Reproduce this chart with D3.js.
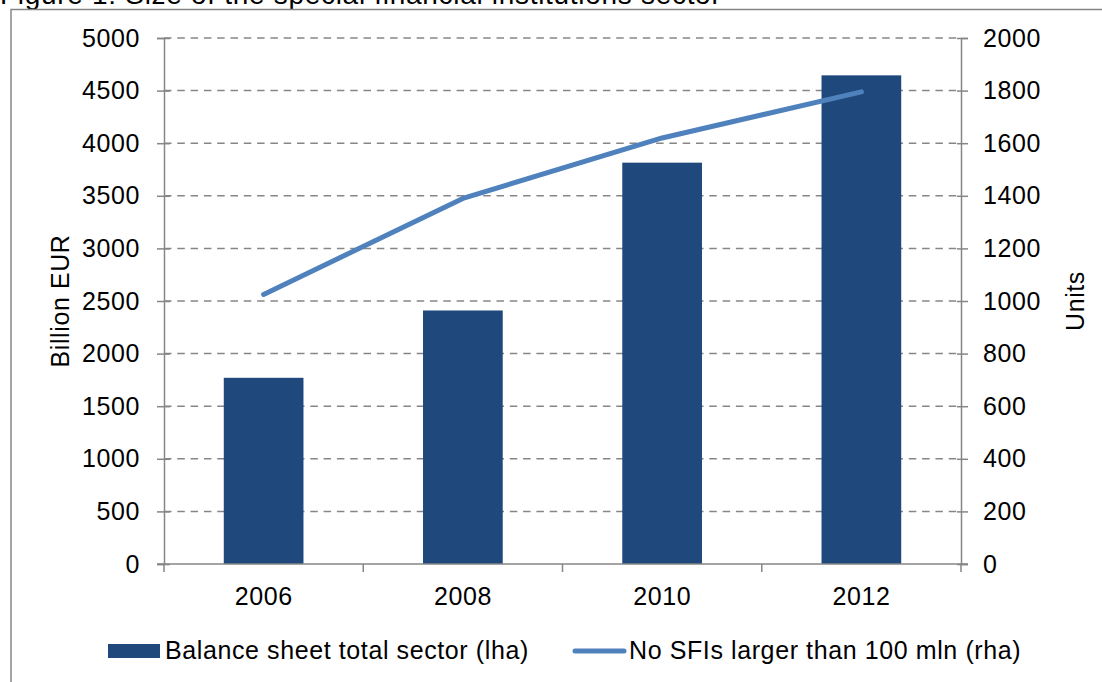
<!DOCTYPE html>
<html>
<head>
<meta charset="utf-8">
<script src="https://cdn.jsdelivr.net/npm/d3@7"></script>
<style>
  html, body { margin: 0; padding: 0; background: #fff; overflow: hidden; }
  svg { display: block; font-family: "Liberation Sans", Arial, sans-serif; }
  text { letter-spacing: 0.6px; }
</style>
</head>
<body>
<svg id="chart" width="1102" height="682"></svg>
<script>
// Special financial institutions: balance sheet total and number of entities
const years = ["2006", "2008", "2010", "2012"];
const balanceSheet = [1770, 2410, 3815, 4645];   // billion EUR (left axis)
const sfiCount = [1025, 1390, 1620, 1795];       // units (right axis)
const leftTicks = [0, 500, 1000, 1500, 2000, 2500, 3000, 3500, 4000, 4500, 5000];
const rightTicks = [0, 200, 400, 600, 800, 1000, 1200, 1400, 1600, 1800, 2000];

const svg = d3.select("#chart");
const axisColor = "#868686";
const fontSize = 25;

// Plot frame
const plotLeft = 164, plotRight = 961, plotTop = 38, plotBottom = 564;

const x = d3.scaleBand().domain(years).range([plotLeft, plotRight]).paddingInner(0.6).paddingOuter(0.3);
const yL = d3.scaleLinear().domain([0, 5000]).range([plotBottom, plotTop]);
const yR = d3.scaleLinear().domain([0, 2000]).range([plotBottom, plotTop]);

// Title (partly above the visible area)
svg.append("text")
  .attr("x", 0).attr("y", 4)
  .attr("font-size", 28).attr("fill", "#000")
  .style("letter-spacing", "0.7px")
  .text("Figure 1: Size of the special financial institutions sector");

// Outer chart box
svg.append("rect")
  .attr("x", 11).attr("y", 9.5)
  .attr("width", 1200).attr("height", 800)
  .attr("fill", "none").attr("stroke", axisColor).attr("stroke-width", 1.5);

// Dashed gridlines
svg.append("g").selectAll("line")
  .data(leftTicks.filter(d => d > 0))
  .join("line")
  .attr("x1", plotLeft).attr("x2", plotRight)
  .attr("y1", d => yL(d)).attr("y2", d => yL(d))
  .attr("stroke", axisColor).attr("stroke-width", 1.5)
  .attr("stroke-dasharray", "7.5,5.8");

// Bars
svg.append("g").selectAll("rect")
  .data(years.map((y, i) => ({ y, v: balanceSheet[i] })))
  .join("rect")
  .attr("x", d => x(d.y))
  .attr("width", x.bandwidth())
  .attr("y", d => yL(d.v))
  .attr("height", d => yL(0) - yL(d.v))
  .attr("fill", "#1F497D");

// Line series
const line = d3.line()
  .x((d, i) => x(years[i]) + x.bandwidth() / 2)
  .y(d => yR(d));
svg.append("path")
  .datum(sfiCount)
  .attr("d", line)
  .attr("fill", "none")
  .attr("stroke", "#4F81BD")
  .attr("stroke-width", 5)
  .attr("stroke-linecap", "round")
  .attr("stroke-linejoin", "round");

// Left axis
const gL = svg.append("g").attr("transform", `translate(${plotLeft},0)`)
  .call(d3.axisLeft(yL).tickValues(leftTicks).tickFormat(d3.format("d")).tickSize(7).tickPadding(17));
gL.selectAll(".tick line").attr("x1", 6);
// Right axis
const gR = svg.append("g").attr("transform", `translate(${plotRight},0)`)
  .call(d3.axisRight(yR).tickValues(rightTicks).tickFormat(d3.format("d")).tickSize(7).tickPadding(15));
gR.selectAll(".tick line").attr("x1", -4);
// Category axis
const gX = svg.append("g").attr("transform", `translate(0,${plotBottom})`)
  .call(d3.axisBottom(x).tickSize(0).tickPadding(23));
gX.select(".domain").attr("d", `M${plotLeft - 7},0H${plotRight + 7}`);
// Category boundary ticks
const bounds = years.map(y => x(y) - x.step() * x.paddingInner() / 2).concat([plotRight]);
bounds[0] = plotLeft;
gX.selectAll(".boundary")
  .data(bounds)
  .join("line")
  .attr("class", "boundary")
  .attr("x1", d => d).attr("x2", d => d)
  .attr("y1", 0).attr("y2", 8)
  .attr("stroke", axisColor).attr("stroke-width", 1.5);

[gL, gR, gX].forEach(g => {
  g.select(".domain").attr("stroke", axisColor).attr("stroke-width", 1.5);
  g.selectAll(".tick line").attr("stroke", axisColor).attr("stroke-width", 1.5);
  g.selectAll(".tick text")
    .attr("font-size", fontSize)
    .attr("font-family", "Liberation Sans, Arial, sans-serif")
    .attr("fill", "#000");
});

// Axis titles
svg.append("text")
  .attr("transform", `translate(69,${(plotTop + plotBottom) / 2}) rotate(-90)`)
  .attr("text-anchor", "middle")
  .attr("font-size", fontSize).attr("fill", "#000")
  .text("Billion EUR");
svg.append("text")
  .attr("transform", `translate(1084,${(plotTop + plotBottom) / 2}) rotate(-90)`)
  .attr("text-anchor", "middle")
  .attr("font-size", fontSize).attr("fill", "#000")
  .text("Units");

// Legend
const lg = svg.append("g");
lg.append("rect")
  .attr("x", 108).attr("y", 644).attr("width", 52).attr("height", 14)
  .attr("fill", "#1F497D");
lg.append("text")
  .attr("x", 165).attr("y", 659)
  .attr("font-size", fontSize).attr("fill", "#000")
  .text("Balance sheet total sector (lha)");
lg.append("line")
  .attr("x1", 575).attr("x2", 624).attr("y1", 651).attr("y2", 651)
  .attr("stroke", "#4F81BD").attr("stroke-width", 5).attr("stroke-linecap", "round");
lg.append("text")
  .attr("x", 629).attr("y", 659)
  .attr("font-size", fontSize).attr("fill", "#000")
  .text("No SFIs larger than 100 mln (rha)");
</script>
</body>
</html>
